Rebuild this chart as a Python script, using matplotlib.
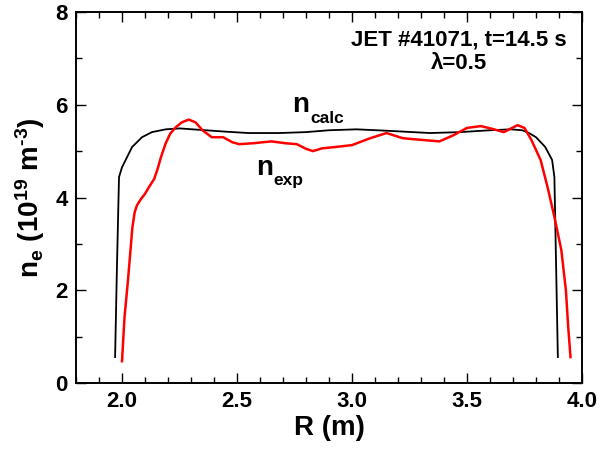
import matplotlib
matplotlib.use("Agg")
import matplotlib.pyplot as plt
from matplotlib.ticker import MultipleLocator

plt.rcParams['font.family'] = ['Liberation Sans', 'DejaVu Sans']
plt.rcParams['font.weight'] = 'bold'
plt.rcParams['mathtext.fontset'] = 'custom'
plt.rcParams['mathtext.rm'] = 'Liberation Sans:bold'
plt.rcParams['mathtext.it'] = 'Liberation Sans:bold'
plt.rcParams['mathtext.bf'] = 'Liberation Sans:bold'

# Calculated density profile
r_calc = [1.970, 1.978, 1.987, 2.000, 2.016, 2.044, 2.087, 2.130, 2.190, 2.250,
          2.335, 2.450, 2.550, 2.684, 2.800, 2.900, 3.020, 3.150, 3.340, 3.470,
          3.600, 3.690, 3.740, 3.770, 3.800, 3.840, 3.870, 3.880, 3.895]
n_calc = [0.56, 2.50, 4.44, 4.65, 4.81, 5.09, 5.30, 5.41, 5.47, 5.49,
          5.46, 5.42, 5.39, 5.39, 5.41, 5.45, 5.47, 5.44, 5.39, 5.41,
          5.45, 5.47, 5.45, 5.39, 5.30, 5.09, 4.81, 4.44, 0.56]

# Measured density profile
r_exp = [2.000, 2.011, 2.025, 2.035, 2.045, 2.055, 2.065, 2.080, 2.100, 2.118,
         2.140, 2.155, 2.170, 2.190, 2.210, 2.235, 2.260, 2.290, 2.320, 2.350,
         2.390, 2.440, 2.480, 2.510, 2.570, 2.650, 2.710, 2.760, 2.800, 2.830,
         2.870, 2.930, 3.000, 3.080, 3.150, 3.220, 3.260, 3.380, 3.440, 3.500,
         3.560, 3.610, 3.660, 3.720, 3.750, 3.780, 3.820, 3.850, 3.880, 3.910,
         3.930, 3.940, 3.950]
n_exp = [0.47, 1.42, 2.16, 2.75, 3.35, 3.68, 3.83, 3.95, 4.08, 4.23,
         4.40, 4.62, 4.88, 5.17, 5.38, 5.52, 5.62, 5.68, 5.62, 5.45,
         5.30, 5.30, 5.19, 5.15, 5.17, 5.21, 5.17, 5.15, 5.05, 5.00,
         5.06, 5.09, 5.13, 5.28, 5.39, 5.28, 5.26, 5.21, 5.34, 5.50,
         5.54, 5.48, 5.41, 5.56, 5.50, 5.24, 4.81, 4.23, 3.58, 2.87,
         2.00, 1.21, 0.56]

x_ticks = [2.0, 2.5, 3.0, 3.5, 4.0]
y_ticks = [0, 2, 4, 6, 8]

fig = plt.figure(figsize=(5.99, 4.5), dpi=100)
ax = fig.add_axes([76 / 599, 1 - 383 / 450, (582 - 76) / 599, (383 - 12) / 450])

ax.plot(r_calc, n_calc, color='black', lw=1.3, solid_joinstyle='round')
ax.plot(r_exp, n_exp, color='#ff0000', lw=1.8, solid_joinstyle='round')

ax.set_xlim(1.8, 4.0)
ax.set_ylim(0, 8)
ax.set_xticks(x_ticks)
ax.set_xticklabels([f"{v:.1f}" for v in x_ticks])
ax.set_yticks(y_ticks)
ax.set_yticklabels([str(v) for v in y_ticks])
ax.xaxis.set_minor_locator(MultipleLocator(0.1))
ax.yaxis.set_minor_locator(MultipleLocator(1))

ax.tick_params(which='both', direction='in', top=True, right=True,
               labelsize=16, width=1.0, pad=6)
ax.tick_params(which='major', length=7)
ax.tick_params(which='minor', length=4)
for s in ax.spines.values():
    s.set_linewidth(1.4)

ax.set_xlabel('R (m)', fontsize=20, fontweight='bold', labelpad=2)
ax.set_ylabel(r'$\mathbf{n_e\ (10^{19}\ m^{\text{-3}})}$', fontsize=20, labelpad=6)

ax.text(3.464, 7.39, 'JET #41071, t=14.5 s', fontsize=16, fontweight='bold',
        ha='center', va='center')
ax.text(3.464, 6.90, '\u03bb=0.5', fontsize=16, fontweight='bold',
        ha='center', va='center')

ax.text(2.741, 5.84, 'n', fontsize=20, fontweight='bold', ha='left', va='baseline')
ax.text(2.819, 5.60, 'calc', fontsize=12.5, fontweight='bold', ha='left', va='baseline')
ax.text(2.584, 4.48, 'n', fontsize=20, fontweight='bold', ha='left', va='baseline')
ax.text(2.658, 4.27, 'exp', fontsize=12.5, fontweight='bold', ha='left', va='baseline')

fig.savefig('out.png', dpi=100)
